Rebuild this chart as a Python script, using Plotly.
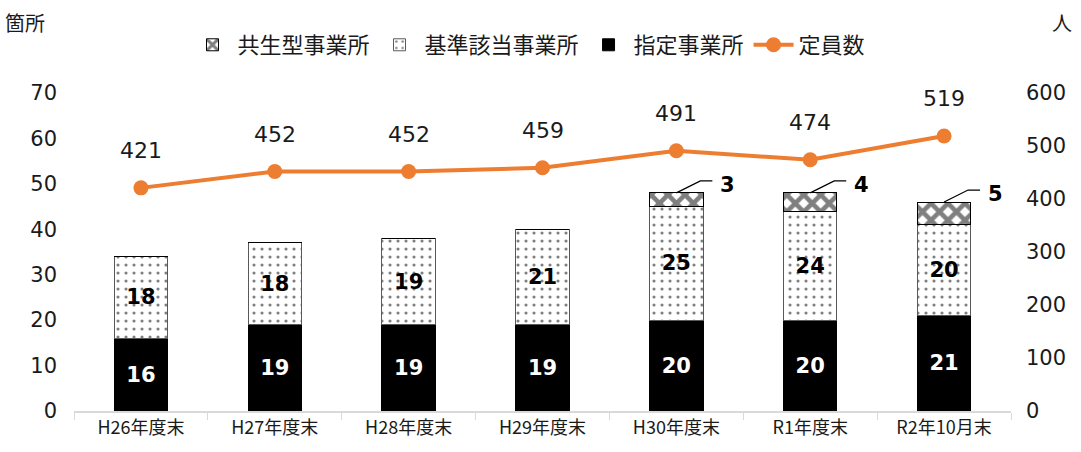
import plotly.graph_objects as go

categories = ["H26年度末", "H27年度末", "H28年度末", "H29年度末", "H30年度末", "R1年度末", "R2年10月末"]
shitei = [16, 19, 19, 19, 20, 20, 21]
kijun = [18, 18, 19, 21, 25, 24, 20]
kyosei = [0, 0, 0, 0, 3, 4, 5]
teiin = [421, 452, 452, 459, 491, 474, 519]

FONT = "DejaVu Sans, Noto Sans CJK JP"
JP = "Noto Sans CJK JP, DejaVu Sans"
ORANGE = "#ED7D31"

fig = go.Figure()

fig.add_trace(go.Bar(
    x=categories, y=shitei, name="指定事業所",
    marker=dict(color="black", line=dict(color="black", width=1)),
    text=[str(v) for v in shitei], textposition="inside", insidetextanchor="middle",
    textfont=dict(color="white", size=21, family=FONT, weight="bold"),
    legendrank=3,
))
fig.add_trace(go.Bar(
    x=categories, y=kijun, name="基準該当事業所",
    marker=dict(color="white", line=dict(color="#595959", width=1),
                pattern=dict(shape=".", fgcolor="black", bgcolor="white", size=8, solidity=0.12)),
    text=[str(v) for v in kijun], textposition="inside", insidetextanchor="middle",
    textfont=dict(color="black", size=21, family=FONT, weight="bold"),
    legendrank=2,
))
fig.add_trace(go.Bar(
    x=categories, y=kyosei, name="共生型事業所",
    marker=dict(color="white", line=dict(color="black", width=1),
                pattern=dict(shape="x", fgcolor="black", bgcolor="white", size=12, solidity=0.62)),
    textposition="none",
    legendrank=1,
))
fig.add_trace(go.Scatter(
    x=categories, y=teiin, name="定員数", yaxis="y2", mode="lines+markers",
    line=dict(color=ORANGE, width=4), marker=dict(color=ORANGE, size=15),
    legendrank=4,
))

annotations = []
for i, (c, v) in enumerate(zip(categories, teiin)):
    annotations.append(dict(x=c, y=v, xref="x", yref="y2", text=str(v), showarrow=False,
                            yshift=37, font=dict(size=22, family=FONT, color="#1a1a1a")))

shapes = []
for i, c in enumerate(categories):
    if kyosei[i] > 0:
        top = shitei[i] + kijun[i] + kyosei[i]
        shapes.append(dict(type="path", xref="x", yref="y", xsizemode="pixel", ysizemode="pixel",
                           xanchor=i, yanchor=top, path="M0,0 L24,12 L36,12",
                           line=dict(color="black", width=1.3)))
        annotations.append(dict(x=c, y=top, xref="x", yref="y", text=str(kyosei[i]), showarrow=False,
                                xshift=51, yshift=8,
                                font=dict(size=21, family=FONT, color="black", weight="bold")))

annotations.append(dict(x=-0.052, y=1.223, xref="paper", yref="paper", text="箇所", showarrow=False,
                        xanchor="center", yanchor="middle",
                        font=dict(size=20, family=JP, color="#1a1a1a")))
annotations.append(dict(x=1.054, y=1.223, xref="paper", yref="paper", text="人", showarrow=False,
                        xanchor="center", yanchor="middle",
                        font=dict(size=20, family=JP, color="#1a1a1a")))

fig.update_layout(
    width=1081, height=452,
    margin=dict(l=74, r=70, t=93, b=41),
    paper_bgcolor="white", plot_bgcolor="white",
    barmode="stack", bargap=0.6,
    showlegend=True,
    legend=dict(orientation="h", x=0.4856, xanchor="center", y=1.151, yanchor="middle",
                font=dict(size=22, family=JP, color="#1a1a1a"), traceorder="normal",
                itemwidth=40, bgcolor="rgba(0,0,0,0)"),
    xaxis=dict(type="category", showline=True, linecolor="#d9d9d9", linewidth=1.5,
               ticks="outside", tickson="boundaries", ticklen=7, tickcolor="#d9d9d9",
               tickfont=dict(size=18, family=JP, color="#1a1a1a"), showgrid=False),
    yaxis=dict(range=[0, 70], dtick=10, showgrid=False, zeroline=False, showline=False,
               tickfont=dict(size=21, family=FONT, color="#1a1a1a"), ticklabelstandoff=16),
    yaxis2=dict(range=[0, 600], dtick=100, overlaying="y", side="right", showgrid=False,
                zeroline=False, showline=False,
                tickfont=dict(size=21, family=FONT, color="#1a1a1a"), ticklabelstandoff=14),
    annotations=annotations, shapes=shapes,
)

fig.write_html("out.html", config={"displayModeBar": False},
               post_script="document.body.style.margin='0px';")
